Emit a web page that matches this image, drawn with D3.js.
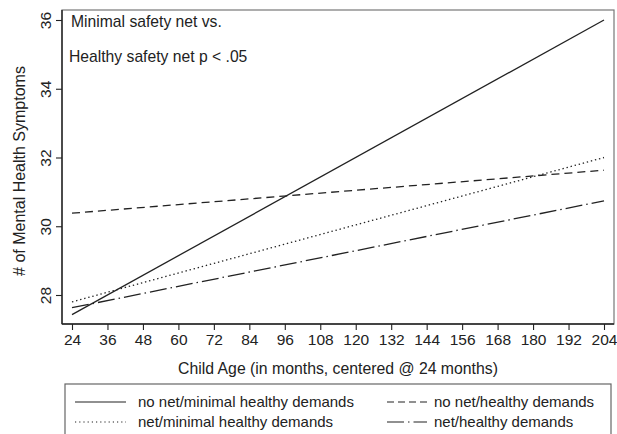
<!DOCTYPE html>
<html>
<head>
<meta charset="utf-8">
<script src="https://cdn.jsdelivr.net/npm/d3@7"></script>
<style>
  html, body { margin: 0; padding: 0; background: #fff; }
  svg { display: block; font-family: "Liberation Sans", Arial, sans-serif; }
</style>
</head>
<body>
<svg id="chart" width="617" height="434"></svg>
<script>
// Child age in months (centered @ 24 months)
const ages = [24, 204];
const xTicks = [24, 36, 48, 60, 72, 84, 96, 108, 120, 132, 144, 156, 168, 180, 192, 204];
const yTicks = [28, 30, 32, 34, 36];

// Predicted number of mental health symptoms at each age
const seriesNames = [
  "no net/minimal healthy demands",
  "no net/healthy demands",
  "net/minimal healthy demands",
  "net/healthy demands"
];
const noNetMinimal = [27.43, 36.0];
const noNetHealthy = [30.38, 31.63];
const netMinimal = [27.8, 32.0];
const netHealthy = [27.63, 30.74];

const annotations = ["Minimal safety net vs.", "Healthy safety net p < .05"];

const series = [
  { name: seriesNames[0], values: noNetMinimal, dash: null },
  { name: seriesNames[1], values: noNetHealthy, dash: "8,5" },
  { name: seriesNames[2], values: netMinimal, dash: "1.4,2.8" },
  { name: seriesNames[3], values: netHealthy, dash: "17,4,1.5,4" }
];

const svg = d3.select("#chart");
const frame = { left: 62, right: 614, top: 10, bottom: 324 };

const x = d3.scaleLinear().domain([24, 204]).range([72, 604]);
const y = d3.scaleLinear().domain([28, 36]).range([295, 20]);

const ink = "#222";
const fontFam = "Liberation Sans, Arial, sans-serif";

// plot frame (top/right lighter)
svg.append("rect")
  .attr("x", frame.left).attr("y", frame.top)
  .attr("width", frame.right - frame.left).attr("height", frame.bottom - frame.top)
  .attr("fill", "none").attr("stroke", "#777").attr("stroke-width", 1.2);

// x axis
const xAxis = svg.append("g")
  .attr("transform", `translate(0,${frame.bottom})`)
  .call(d3.axisBottom(x).tickValues(xTicks).tickSize(6).tickPadding(4).tickSizeOuter(0));
xAxis.select(".domain").attr("d", `M${frame.left},0H${frame.right}`).attr("stroke", ink).attr("stroke-width", 1.4);
xAxis.selectAll(".tick line").attr("stroke", ink).attr("stroke-width", 1.1);
xAxis.selectAll(".tick text").attr("font-size", 15.5).attr("fill", ink)
  .attr("font-family", fontFam);

// y axis with rotated tick labels
const yAxis = svg.append("g")
  .attr("transform", `translate(${frame.left},0)`)
  .call(d3.axisLeft(y).tickValues(yTicks).tickSize(6).tickSizeOuter(0));
yAxis.select(".domain").attr("d", `M0,${frame.top}V${frame.bottom}`).attr("stroke", ink).attr("stroke-width", 1.4);
yAxis.selectAll(".tick line").attr("stroke", ink).attr("stroke-width", 1.1);
yAxis.selectAll(".tick text")
  .attr("font-size", 15.5).attr("fill", ink)
  .attr("font-family", fontFam)
  .attr("x", null).attr("dy", null)
  .attr("text-anchor", "middle")
  .attr("transform", "translate(-11,0) rotate(-90)");

// axis titles
svg.append("text")
  .attr("x", (frame.left + frame.right) / 2).attr("y", 374)
  .attr("text-anchor", "middle").attr("font-size", 15.8).attr("fill", ink)
  .text("Child Age (in months, centered @ 24 months)");

svg.append("text")
  .attr("transform", `translate(25,171) rotate(-90)`)
  .attr("text-anchor", "middle").attr("font-size", 16).attr("fill", ink)
  .text("# of Mental Health Symptoms");

// annotation text inside the plot
svg.append("text").attr("x", 71).attr("y", 27)
  .attr("font-size", 15.7).attr("fill", ink).text(annotations[0]);
svg.append("text").attr("x", 69).attr("y", 62)
  .attr("font-size", 15.7).attr("fill", ink).text(annotations[1]);

// series lines
const line = d3.line().x((d, i) => x(ages[i])).y(d => y(d));
svg.append("g").selectAll("path").data(series).join("path")
  .attr("d", d => line(d.values))
  .attr("fill", "none").attr("stroke", ink).attr("stroke-width", 1.3)
  .attr("stroke-dasharray", d => d.dash);

// legend
const legend = svg.append("g");
legend.append("rect")
  .attr("x", 65).attr("y", 384).attr("width", 546).attr("height", 80)
  .attr("fill", "none").attr("stroke", "#666").attr("stroke-width", 1.2);

const legendPos = [
  { x0: 75, x1: 126, tx: 138, ty: 402 },
  { x0: 387, x1: 427, tx: 434, ty: 402 },
  { x0: 75, x1: 126, tx: 138, ty: 422 },
  { x0: 387, x1: 427, tx: 434, ty: 422 }
];
const legendDash = [null, "7,4", "1.2,3", "17,4,1.5,4"];
series.forEach((s, i) => {
  const p = legendPos[i];
  legend.append("line")
    .attr("x1", p.x0).attr("x2", p.x1).attr("y1", p.ty).attr("y2", p.ty)
    .attr("stroke", ink).attr("stroke-width", 1.2)
    .attr("stroke-dasharray", legendDash[i]);
  legend.append("text")
    .attr("x", p.tx).attr("y", p.ty).attr("dy", "0.35em")
    .attr("font-size", 15).attr("fill", ink).text(s.name);
});
</script>
</body>
</html>
